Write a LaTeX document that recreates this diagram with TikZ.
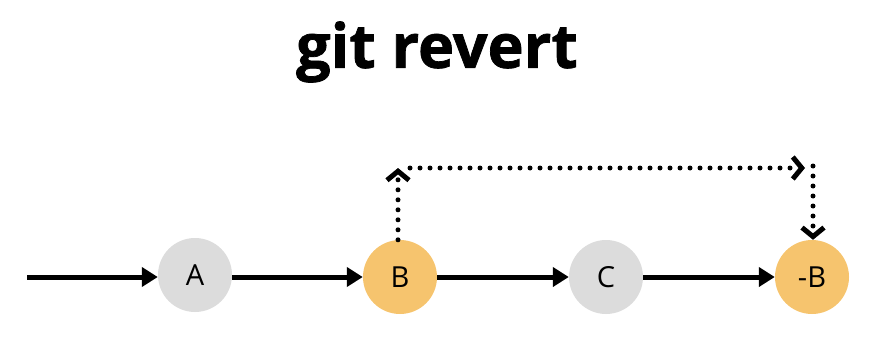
\documentclass[tikz,border=0pt]{standalone}
\usepackage{fontspec}
\setmainfont{Open Sans}
\newfontfamily\titlefont[FakeBold=1.2]{Open Sans Bold}
\usetikzlibrary{arrows.meta}
\definecolor{cgray}{HTML}{DCDCDC}
\definecolor{corange}{HTML}{F6C46E}
\tikzset{
  commit/.style={circle, minimum size=74pt, inner sep=0pt, draw=none, font=\fontsize{29}{31}\selectfont},
  flow/.style={line width=5pt, -{Triangle[length=16pt,width=19pt]}},
  dotarrow/.style={line width=5pt, line cap=round, dash pattern=on 0pt off 10pt, -{Straight Barb[length=9pt,width=22pt,line width=5pt]}}
}
\begin{document}
\begin{tikzpicture}[x=1pt,y=-1pt]
\useasboundingbox (0,0) rectangle (880,356);
\node (title) at (437,52) {\titlefont\fontsize{61}{65}\selectfont git revert};
\node[commit, fill=cgray] (A) at (195,275) {A};
\node[commit, fill=corange] (B) at (400,277) {B};
\node[commit, fill=cgray] (C) at (606,277) {C};
\node[commit, fill=corange] (nB) at (812,277) {-B};
\coordinate (start) at (27,277);
\coordinate (tl) at (398,168);
\coordinate (tr) at (813,168);
\draw[flow] (start) -- (A.west |- start);
\draw[flow] (A.east |- B) -- (B.west);
\draw[flow] (B.east) -- (C.west);
\draw[flow] (C.east) -- (nB.west);
\draw[dotarrow] (B.north -| tl) -- (tl);
\draw[dotarrow] ([xshift=12pt]tl) -- ([xshift=-8pt]tr);
\draw[dotarrow] ([yshift=2pt]tr) -- (nB.north -| tr);
\end{tikzpicture}
\end{document}
